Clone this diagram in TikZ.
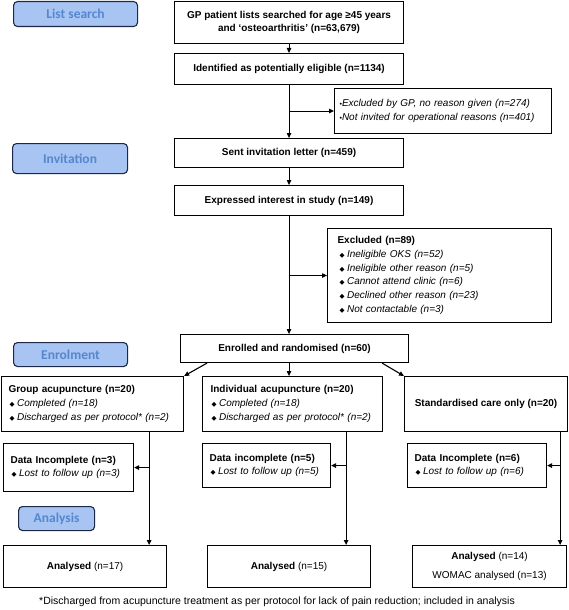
\documentclass[tikz,border=0pt]{standalone}
\usepackage{fontspec}
\setmainfont{Liberation Sans}
\newfontfamily\carlito{Carlito}
\newfontfamily\dejavu{DejaVu Sans}
\usetikzlibrary{arrows.meta,calc}
\definecolor{lblfill}{HTML}{A8C4F2}
\definecolor{lbltext}{HTML}{5587CF}
\definecolor{lblline}{HTML}{1C2846}
\newcommand\dmd{{\dejavu\fontsize{6.5}{6.5}\selectfont ◆}\hspace{2.5pt}}
\newcommand\dotb{{\fontsize{7}{7}\selectfont •}}
\tikzset{
  box/.style={draw=black, line width=1.1pt, inner sep=0pt, anchor=north west,
    font=\fontsize{10}{13.7}\selectfont\bfseries, align=center},
  lbox/.style={draw=black, line width=1.1pt, inner ysep=0pt, anchor=north west,
    font=\fontsize{10}{13.7}\selectfont, align=left},
  lbl/.style={draw=lblline, fill=lblfill, line width=1.1pt, rounded corners=4pt,
    anchor=north west, inner sep=0pt, text=lbltext,
    font=\carlito\bfseries\fontsize{13.5}{14}\selectfont},
  arr/.style={-{Triangle[length=5pt,width=4.5pt]}, line width=1.1pt},
}
\begin{document}
\begin{tikzpicture}[x=1pt,y=-1pt]
\useasboundingbox (0,0) rectangle (568,610);
% stage labels
\node[lbl, minimum width=124, minimum height=25] (lsearch) at (13,1) {List search};
\node[lbl, minimum width=115, minimum height=30] (linv) at (12,143) {Invitation};
\node[lbl, minimum width=114, minimum height=24] (lenrol) at (13,342) {Enrolment};
\node[lbl, minimum width=76, minimum height=24] (lanal) at (18,506) {Analysis};
% main column
\node[box, minimum width=229, minimum height=42] (box1) at (174,1)
  {GP patient lists searched for age ≥45 years\\and ‘osteoarthritis’ (n=63,679)};
\node[box, minimum width=229, minimum height=31] (box2) at (174,53)
  {Identified as potentially eligible (n=1134)};
\node[lbox, inner xsep=5pt, text width=207pt, minimum height=45] (excl1) at (334,88)
  {\dotb\textit{Excluded by GP, no reason given (n=274)}\\
   \dotb\textit{Not invited for operational reasons (n=401)}};
\node[box, minimum width=229, minimum height=29] (box3) at (174,138)
  {Sent invitation letter (n=459)};
\node[box, minimum width=229, minimum height=30] (box4) at (174,185)
  {Expressed interest in study (n=149)};
\node[lbox, inner xsep=10pt, text width=204pt, minimum height=94] (excl2) at (327,228)
  {\textbf{Excluded (n=89)}\\
   \hspace*{2pt}\dmd\textit{Ineligible OKS (n=52)}\\
   \hspace*{2pt}\dmd\textit{Ineligible other reason (n=5)}\\
   \hspace*{2pt}\dmd\textit{Cannot attend clinic (n=6)}\\
   \hspace*{2pt}\dmd\textit{Declined other reason (n=23)}\\
   \hspace*{2pt}\dmd\textit{Not contactable (n=3)}};
\node[box, minimum width=228, minimum height=28] (enrol) at (180,334)
  {Enrolled and randomised (n=60)};
% arms
\node[lbox, inner xsep=7pt, text width=168pt, minimum height=55] (group) at (1,376)
  {\textbf{Group acupuncture (n=20)}\\
   \hspace*{1pt}\dmd\textit{Completed (n=18)}\\
   \hspace*{1pt}\dmd\textit{Discharged as per protocol* (n=2)}};
\node[lbox, inner xsep=8pt, text width=164pt, minimum height=55] (indiv) at (202,376)
  {\textbf{Individual acupuncture (n=20)}\\
   \hspace*{1pt}\dmd\textit{Completed (n=18)}\\
   \hspace*{1pt}\dmd\textit{Discharged as per protocol* (n=2)}};
\node[box, minimum width=163, minimum height=55] (stand) at (404,376)
  {Standardised care only (n=20)};
\node[lbox, inner xsep=7pt, text width=116pt, minimum height=48] (inc1) at (3,443)
  {\textbf{Data Incomplete (n=3)}\\
   \hspace*{1pt}\dmd\textit{Lost to follow up (n=3)}};
\node[lbox, inner xsep=7pt, text width=114pt, minimum height=44] (inc2) at (202,443)
  {\textbf{Data incomplete (n=5)}\\
   \hspace*{1pt}\dmd\textit{Lost to follow up (n=5)}};
\node[lbox, inner xsep=7pt, text width=125pt, minimum height=44] (inc3) at (407,443)
  {\textbf{Data Incomplete (n=6)}\\
   \hspace*{1pt}\dmd\textit{Lost to follow up (n=6)}};
\node[box, minimum width=163, minimum height=42, font=\fontsize{10}{13.7}\selectfont] (an1) at (3,545)
  {\textbf{Analysed} (n=17)};
\node[box, minimum width=163, minimum height=42, font=\fontsize{10}{13.7}\selectfont] (an2) at (207,545)
  {\textbf{Analysed} (n=15)};
\node[box, minimum width=154, minimum height=42, font=\fontsize{10}{19}\selectfont] (an3) at (412,545)
  {\textbf{Analysed} (n=14)\\WOMAC analysed (n=13)};
\node[anchor=west, inner sep=0pt, font=\fontsize{10.5}{12}\selectfont] (fn) at (39,602)
  {*Discharged from acupuncture treatment as per protocol for lack of pain reduction; included in analysis};
% connectors
\draw[arr] (box1.south) -- (box2.north);
\draw[arr] (box2.south) -- (box3.north);
\draw[arr] (box2.south |- excl1.west) -- (excl1.west);
\draw[arr] (box3.south) -- (box4.north);
\draw[arr] (box4.south) -- (box4.south |- enrol.north);
\draw[arr] (box4.south |- excl2.west) -- (excl2.west);
\draw[arr] ($(enrol.south west)+(27,0)$) -- (group.north east);
\draw[arr] (enrol.south -| box4.south) -- (indiv.north -| box4.south);
\draw[arr] ($(enrol.south east)+(-27,0)$) -- (stand.north west);
\coordinate (gx) at ($(group.south east)+(-35,0)$);
\coordinate (ix) at ($(indiv.south east)+(-37,0)$);
\coordinate (sx) at ($(stand.south east)+(-8,0)$);
\draw[arr] (gx) -- (gx |- an1.north);
\draw[arr] (gx |- inc1.east) -- (inc1.east);
\draw[arr] (ix) -- (ix |- an2.north);
\draw[arr] (ix |- inc2.east) -- (inc2.east);
\draw[arr] (sx) -- (sx |- an3.north);
\draw[arr] (sx |- inc3.east) -- (inc3.east);
\end{tikzpicture}
\end{document}
